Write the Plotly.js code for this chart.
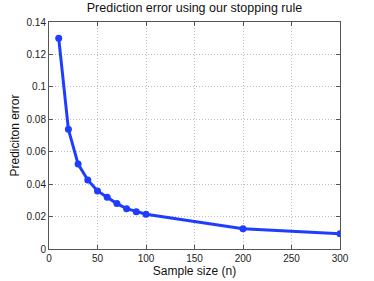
<!DOCTYPE html>
<html><head><meta charset="utf-8">
<script src="https://cdn.plot.ly/plotly-3.0.1.min.js"></script>
<style>html,body{margin:0;padding:0;background:#fff;}#chart{width:374px;height:281px;}</style>
</head><body><div id="chart"></div>
<script>
const sampleSizes = [10, 20, 30, 40, 50, 60, 70, 80, 90, 100, 200, 300];
const predictionError = [0.130, 0.0738, 0.0524, 0.0426, 0.0358, 0.0319, 0.0280, 0.0249, 0.0230, 0.0214, 0.0125, 0.0094];
const xTicks = [0, 50, 100, 150, 200, 250, 300];
const yTicks = [0, 0.02, 0.04, 0.06, 0.08, 0.1, 0.12, 0.14];
const yTickLabels = ['0', '0.02', '0.04', '0.06', '0.08', '0.1', '0.12', '0.14'];

const font = 'Liberation Sans, Arial, Helvetica, sans-serif';
const trace = {
  x: sampleSizes, y: predictionError, type: 'scatter', mode: 'lines+markers',
  line: {color: '#1f3dff', width: 3},
  marker: {color: '#1f3dff', size: 7},
  hoverinfo: 'skip'
};
const axisCommon = {
  showline: true, linecolor: '#555', linewidth: 1, mirror: 'ticks',
  ticks: 'inside', ticklen: 4, tickcolor: '#555',
  showgrid: true, gridcolor: '#bdbdbd', griddash: '1px,2px', gridwidth: 1,
  zeroline: false, tickfont: {family: font, size: 10, color: '#222'}
};
const layout = {
  width: 374, height: 281,
  margin: {l: 49, r: 34, t: 22, b: 32},
  paper_bgcolor: '#fff', plot_bgcolor: '#fff',
  showlegend: false,
  title: {text: 'Prediction error using our stopping rule', font: {family: font, size: 12.5, color: '#111'}, x: 0.52, xanchor: 'center', y: 0.972, yanchor: 'middle'},
  xaxis: Object.assign({}, axisCommon, {
    range: [0, 300], tickvals: xTicks, ticktext: xTicks.map(String),
    title: {text: 'Sample size (n)', font: {family: font, size: 12, color: '#111'}, standoff: 2}
  }),
  yaxis: Object.assign({}, axisCommon, {
    range: [0, 0.14], tickvals: yTicks, ticktext: yTickLabels,
    title: {text: 'Prediciton error', font: {family: font, size: 12, color: '#111'}, standoff: 4}
  })
};
Plotly.newPlot('chart', [trace], layout, {displayModeBar: false, staticPlot: true});
</script></body></html>
